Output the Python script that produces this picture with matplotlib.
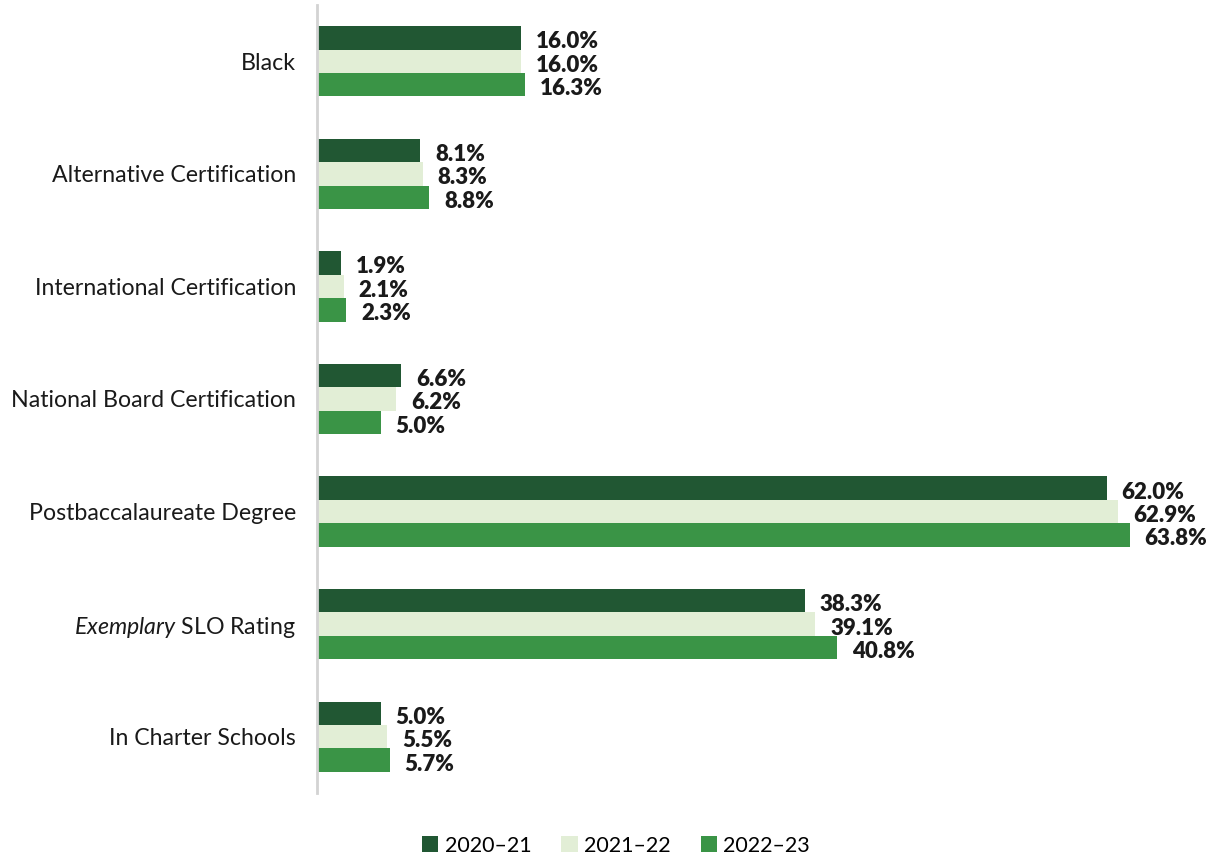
import numpy as np
import matplotlib.pyplot as plt

plt.rcParams['font.family'] = ['Lato', 'DejaVu Sans']
plt.rcParams['mathtext.fontset'] = 'custom'
plt.rcParams['mathtext.rm'] = 'Lato'
plt.rcParams['mathtext.it'] = 'Lato:italic'

# datos
categorias = ['Black', 'Alternative Certification', 'International Certification',
              'National Board Certification', 'Postbaccalaureate Degree',
              r'$\mathit{Exemplary}$ SLO Rating', 'In Charter Schools']
anios = ['2020\u201321', '2021\u201322', '2022\u201323']
v_2021 = [16.0, 8.1, 1.9, 6.6, 62.0, 38.3, 5.0]
v_2122 = [16.0, 8.3, 2.1, 6.2, 62.9, 39.1, 5.5]
v_2223 = [16.3, 8.8, 2.3, 5.0, 63.8, 40.8, 5.7]
colores = ['#215733', '#e2eed6', '#3a9446']

fig = plt.figure(figsize=(12.25, 8.56), dpi=100)
ax = fig.add_axes([0.2588, 0.0736, 0.707, 0.9206])

y = np.arange(len(categorias))
h = 0.208
series = [v_2021, v_2122, v_2223]
for k, (vals, col, lab) in enumerate(zip(series, colores, anios)):
    pos = y + (k - 1) * h
    ax.barh(pos, vals, height=h, color=col, label=lab)
    for p, v in zip(pos, vals):
        ax.annotate(f'{v:.1f}%', xy=(v, p), xytext=(15, -4), textcoords='offset pixels',
                    ha='left', va='center', fontsize=16, fontweight='heavy', color='#1a1a1a')

ax.set_ylim(len(categorias) - 0.5, -0.5)
ax.set_xlim(0, 68)
ax.set_yticks(y)
ax.set_yticklabels(categorias, fontsize=16.7, color='#1a1a1a')
ax.tick_params(axis='y', length=0, pad=15)
ax.set_xticks([])
for s in ['top', 'right', 'bottom']:
    ax.spines[s].set_visible(False)
ax.spines['left'].set_color('#d3d3d3')
ax.spines['left'].set_linewidth(2)

fig.legend(loc='center', bbox_to_anchor=(0.503, 0.012), ncol=3, frameon=False,
           fontsize=15.5, handlelength=0.75, handleheight=0.75, handletextpad=0.3,
           columnspacing=1.4)

plt.savefig('out.png', dpi=100)
